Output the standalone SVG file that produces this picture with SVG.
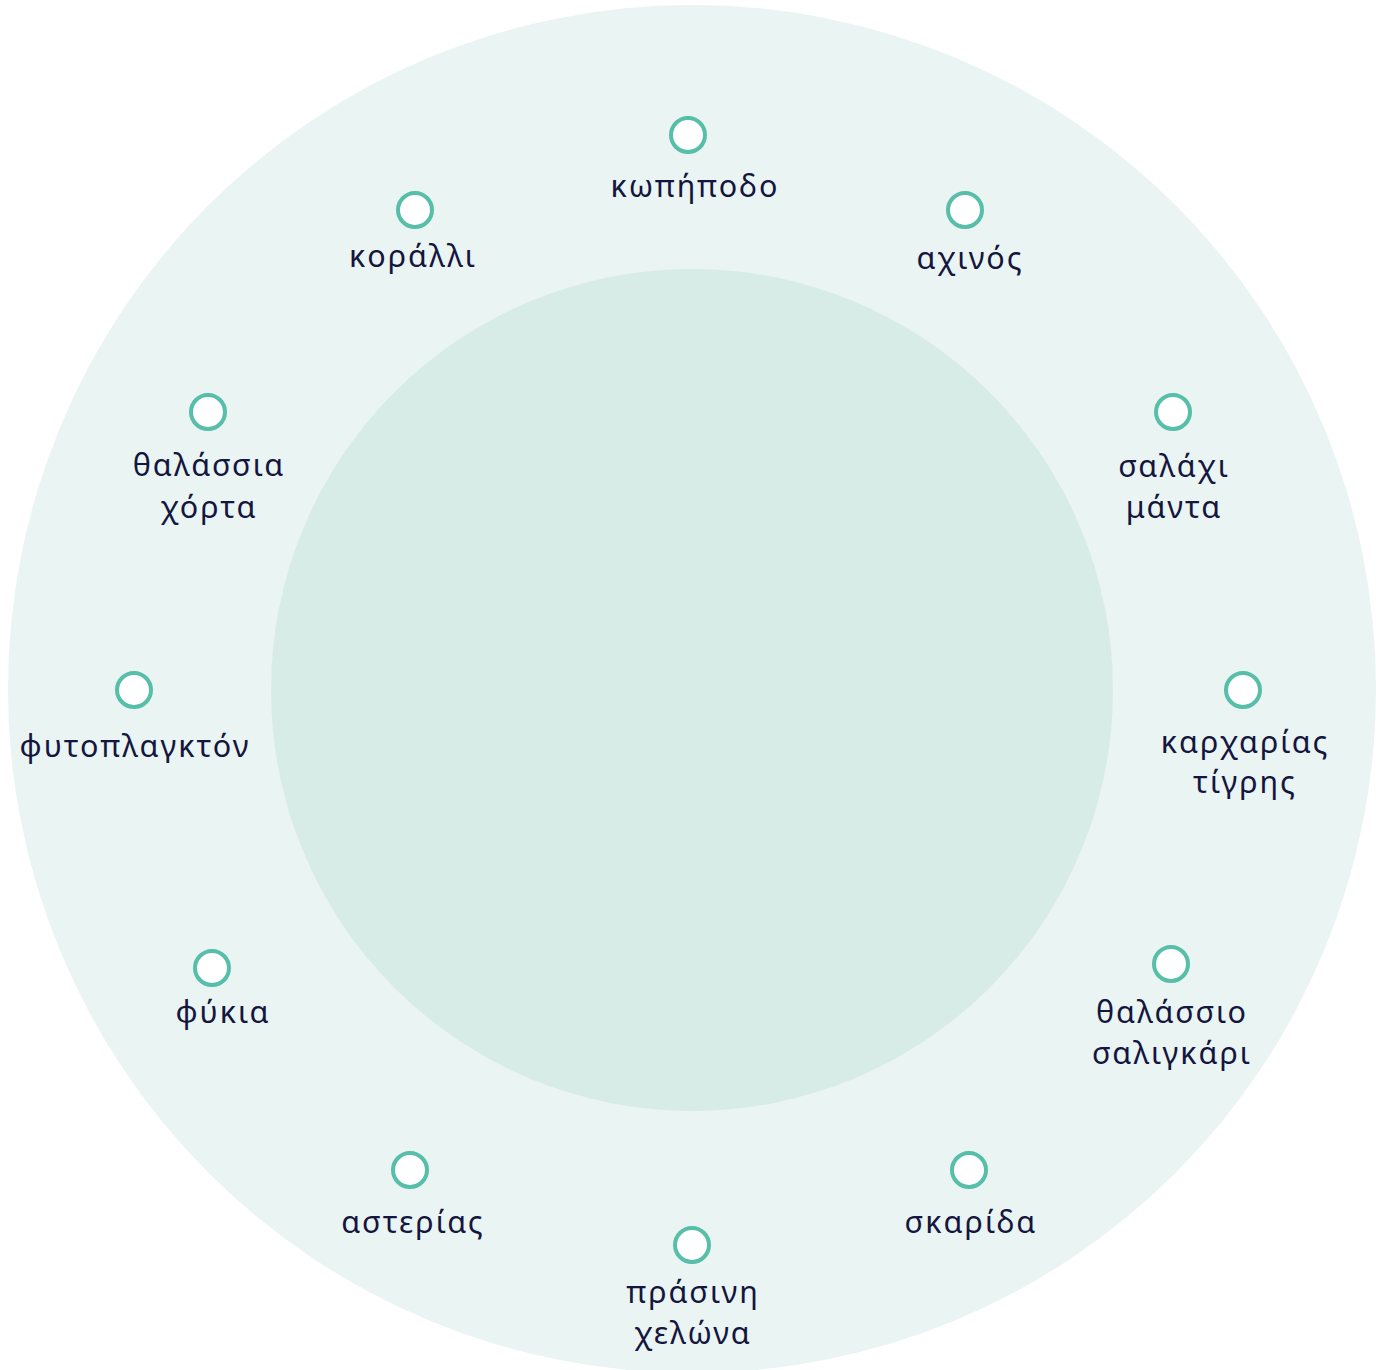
<svg xmlns="http://www.w3.org/2000/svg" width="1386" height="1370" viewBox="0 0 1386 1370">
<style>
.dot{fill:#ffffff;stroke:#56BEA9;stroke-width:4}
.lbl{font-family:"Noto Sans","DejaVu Sans",sans-serif;font-size:30.5px;fill:#14163f;text-anchor:middle;letter-spacing:2px}
</style>
<rect width="1386" height="1370" fill="#ffffff"/>
<g id="ring">
<circle cx="692" cy="689" r="684" fill="#EAF4F2"/>
<circle cx="692" cy="690" r="421" fill="#D8ECE7"/>
</g>
<g id="connectors"></g>
<g id="n1"><circle class="dot" cx="688" cy="135" r="17"/><text class="lbl" x="695" y="197">κωπήποδο</text></g>
<g id="n2"><circle class="dot" cx="965" cy="210" r="17"/><text class="lbl" x="970" y="269">αχινός</text></g>
<g id="n3"><circle class="dot" cx="1173" cy="412" r="17"/><text class="lbl" x="1174" y="477">σαλάχι</text><text class="lbl" x="1174" y="518">μάντα</text></g>
<g id="n4"><circle class="dot" cx="1243" cy="690" r="17"/><text class="lbl" x="1245" y="753">καρχαρίας</text><text class="lbl" x="1245" y="793">τίγρης</text></g>
<g id="n5"><circle class="dot" cx="1171" cy="964" r="17"/><text class="lbl" x="1172" y="1023">θαλάσσιο</text><text class="lbl" x="1172" y="1064">σαλιγκάρι</text></g>
<g id="n6"><circle class="dot" cx="969" cy="1170" r="17"/><text class="lbl" x="971" y="1233">σκαρίδα</text></g>
<g id="n7"><circle class="dot" cx="692" cy="1245" r="17"/><text class="lbl" x="693" y="1303">πράσινη</text><text class="lbl" x="693" y="1344">χελώνα</text></g>
<g id="n8"><circle class="dot" cx="410" cy="1170" r="17"/><text class="lbl" x="413" y="1233">αστερίας</text></g>
<g id="n9"><circle class="dot" cx="212" cy="968" r="17"/><text class="lbl" x="223" y="1023">φύκια</text></g>
<g id="n10"><circle class="dot" cx="134" cy="690" r="17"/><text class="lbl" x="135" y="757">φυτοπλαγκτόν</text></g>
<g id="n11"><circle class="dot" cx="208" cy="412" r="17"/><text class="lbl" x="209" y="476">θαλάσσια</text><text class="lbl" x="209" y="518">χόρτα</text></g>
<g id="n12"><circle class="dot" cx="415" cy="210" r="17"/><text class="lbl" x="413" y="267">κοράλλι</text></g>
</svg>
